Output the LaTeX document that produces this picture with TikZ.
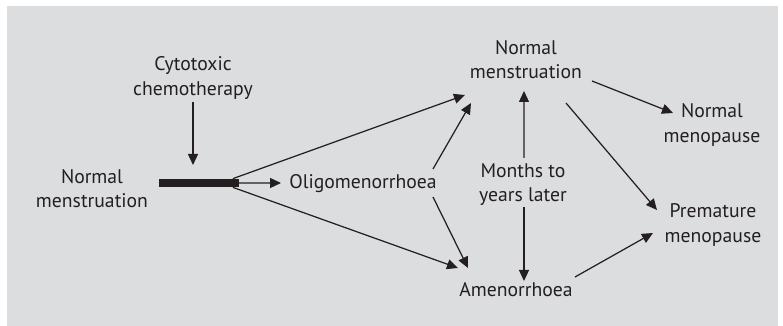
\documentclass[tikz,border=0pt]{standalone}
\usepackage{fontspec}
\setmainfont{PT Sans}
\usepackage{xcolor}
\usetikzlibrary{arrows.meta, calc}
\definecolor{bggray}{HTML}{DCDDDF}
\definecolor{ink}{HTML}{231F20}

\begin{document}
\begin{tikzpicture}[
  label/.style={font=\fontsize{11.2}{13.7}\selectfont, text=ink,
    align=center, inner sep=0pt},
  arr/.style={-{Triangle[length=0.22cm, width=0.2cm]}, line width=0.7pt, color=ink},
  bar/.style={rectangle, fill=ink, minimum width=1.6cm, minimum height=0.16cm,
    inner sep=0pt},
]
\useasboundingbox (0,0) rectangle (15.66,6.52);
\fill[bggray] (0.14,0) rectangle (15.56,6.40);

% Start
\node[label] (nmL) at (1.84,2.74) {Normal\\menstruation};
\node[bar] (bar) at (3.97,2.86) {};
\node[label] (chemo) at (3.86,4.96) {Cytotoxic\\chemotherapy};

% Middle
\node[label] (oligo) at (7.26,2.84) {Oligomenorrhoea};
\node[label] (nmT) at (10.52,5.32) {Normal\\menstruation};
\node[label] (months) at (10.46,2.82) {Months to\\years later};
\node[label] (amen) at (10.32,0.72) {Amenorrhoea};

% End
\node[label] (nmeno) at (14.24,4.02) {Normal\\menopause};
\node[label] (pmeno) at (14.26,2.02) {Premature\\menopause};

% Arrows
\draw[arr] ([yshift=-0.48cm]chemo.center) -- ([shift={(-0.11,0.36)}]bar.center);
\draw[arr] (bar.east) -- ([shift={(-1.64,0.02)}]oligo.center);
\draw[arr] ([xshift=-0.12cm]bar.north east) -- ([shift={(-1.22,-0.70)}]nmT.center);
\draw[arr] ([xshift=-0.12cm]bar.south east) -- ([shift={(-1.16,0.44)}]amen.center);
\draw[arr] ([shift={(1.40,0.30)}]oligo.center) -- ([shift={(-1.10,-0.86)}]nmT.center);
\draw[arr] ([shift={(1.40,-0.26)}]oligo.center) -- ([shift={(-0.96,0.44)}]amen.center);
\draw[arr] ([shift={(0.02,0.54)}]months.center) -- ([shift={(-0.04,-0.62)}]nmT.center);
\draw[arr] ([shift={(0.02,-0.44)}]months.center) -- ([shift={(0.16,0.18)}]amen.center);
\draw[arr] ([shift={(1.32,-0.42)}]nmT.center) -- ([shift={(-0.78,0.24)}]nmeno.center);
\draw[arr] ([shift={(0.80,-0.86)}]nmT.center) -- ([shift={(-1.12,0.30)}]pmeno.center);
\draw[arr] ([shift={(1.18,0.26)}]amen.center) -- ([shift={(-1.20,-0.16)}]pmeno.center);

\end{tikzpicture}
\end{document}
